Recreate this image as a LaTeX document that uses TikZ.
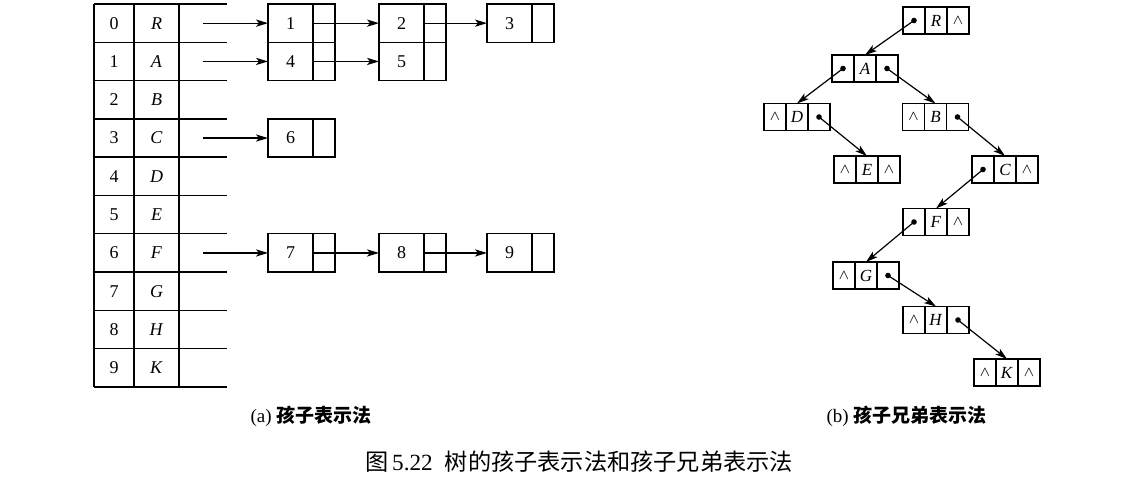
\documentclass[tikz,border=0pt]{standalone}
\usepackage{fontspec}
\setmainfont{Liberation Serif}
\newfontfamily\cjk{Noto Sans CJK SC}
\usetikzlibrary{arrows.meta,positioning}

\tikzset{
  tabline/.style={line width=0.7pt},
  tabtext/.style={font=\fontsize{9}{10}\selectfont},
  cell/.style={draw, line width=0.7pt, inner sep=0pt, outer sep=0pt, minimum height=19.15pt},
  datacell/.style={cell, minimum width=22.5pt, font=\fontsize{9}{10}\selectfont},
  ptrcell/.style={cell, minimum width=11pt},
  tcell/.style={draw, line width=0.6pt, inner sep=0pt, outer sep=0pt, minimum width=11pt, minimum height=13.5pt, font=\fontsize{8.5}{9}\selectfont},
  dot/.style={circle, fill, inner sep=0pt, minimum size=2.8pt},
  link/.style={-{Stealth[length=6pt,width=3.6pt,inset=1.5pt]}, line width=0.6pt},
}
\newcommand{\nilmark}{{\scriptsize$\wedge$}}
% one node of the child-sibling tree: left pointer, data, right pointer
\newcommand{\sibnode}[5]{%
  \node[tcell] (#1) at #2 {\textit{#3}};
  \node[tcell, left=0pt of #1] (#1l) {#4};
  \node[tcell, right=0pt of #1] (#1r) {#5};
}

\begin{document}
\begin{tikzpicture}[x=0.5pt, y=-0.5pt]
    \useasboundingbox (0,0) rectangle (1146,496);

    % Draw table
    \foreach \i/\lab in {0/R,1/A,2/B,3/C,4/D,5/E,6/F,7/G,8/H,9/K} {
        \node[tabtext] (idx\i) at (114, {23.15+38.3*\i}) {\i};
        \node[tabtext] (key\i) at (156.5, {23.15+38.3*\i}) {\textit{\lab}};
        \draw[tabline] (94, {4+38.3*\i}) -- (227, {4+38.3*\i});
    }
    \draw[tabline] (94,387) -- (227,387);
    \draw[tabline] (94,4) -- (94,387) (134,4) -- (134,387) (179,4) -- (179,387);

    % Draw child lists
    \node[datacell] (c1) at (290.5,23.15) {1};
    \node[ptrcell, right=0pt of c1] (p1) {};
    \node[datacell, below=0pt of c1] (c4) {4};
    \node[ptrcell, right=0pt of c4] (p4) {};
    \node[datacell] (c2) at (401.5,23.15) {2};
    \node[ptrcell, right=0pt of c2] (p2) {};
    \node[datacell, below=0pt of c2] (c5) {5};
    \node[ptrcell, right=0pt of c5] (p5) {};
    \node[datacell] (c3) at (509.5,23.15) {3};
    \node[ptrcell, right=0pt of c3] (p3) {};
    \node[datacell] (c6) at (290.5,138.05) {6};
    \node[ptrcell, right=0pt of c6] (p6) {};
    \node[datacell] (c7) at (290.5,252.95) {7};
    \node[ptrcell, right=0pt of c7] (p7) {};
    \node[datacell] (c8) at (401.5,252.95) {8};
    \node[ptrcell, right=0pt of c8] (p8) {};
    \node[datacell] (c9) at (509.5,252.95) {9};
    \node[ptrcell, right=0pt of c9] (p9) {};

    % Draw list links
    \coordinate (s0) at (203,23.15);
    \coordinate (s1) at (203,61.45);
    \coordinate (s3) at (203,138.05);
    \coordinate (s6) at (203,252.95);
    \draw[link] (s0) -- (c1.west);
    \draw[link] (s1) -- (c4.west);
    \draw[link] (s3) -- (c6.west);
    \draw[link] (s6) -- (c7.west);
    \draw[link] (p1.west) -- (c2.west);
    \draw[link] (p2.west) -- (c3.west);
    \draw[link] (p4.west) -- (c5.west);
    \draw[link] (p7.west) -- (c8.west);
    \draw[link] (p8.west) -- (c9.west);

    % Draw tree nodes
    \sibnode{R}{(936,20.5)}{R}{}{\nilmark}
    \sibnode{A}{(865,68.5)}{A}{}{}
    \sibnode{D}{(797,117)}{D}{\nilmark}{}
    \sibnode{B}{(935.5,117)}{B}{\nilmark}{}
    \sibnode{E}{(867,169.5)}{E}{\nilmark}{\nilmark}
    \sibnode{C}{(1005,169.5)}{C}{}{\nilmark}
    \sibnode{F}{(936,222)}{F}{}{\nilmark}
    \sibnode{G}{(866,275.5)}{G}{\nilmark}{}
    \sibnode{H}{(936,320)}{H}{\nilmark}{}
    \sibnode{K}{(1007,372.5)}{K}{\nilmark}{\nilmark}

    % Draw pointers
    \node[dot] (Rp) at (Rl) {};
    \node[dot] (Apl) at (Al) {};
    \node[dot] (Apr) at (Ar) {};
    \node[dot] (Dp) at (Dr) {};
    \node[dot] (Bp) at (Br) {};
    \node[dot] (Cp) at (Cl) {};
    \node[dot] (Fp) at (Fl) {};
    \node[dot] (Gp) at (Gr) {};
    \node[dot] (Hp) at (Hr) {};
    \draw[link] (Rp.center) -- (A.north);
    \draw[link] (Apl.center) -- (D.north);
    \draw[link] (Apr.center) -- (B.north);
    \draw[link] (Dp.center) -- (E.north);
    \draw[link] (Bp.center) -- (C.north);
    \draw[link] (Cp.center) -- (F.north);
    \draw[link] (Fp.center) -- (G.north);
    \draw[link] (Gp.center) -- (H.north);
    \draw[link] (Hp.center) -- (K.north);

    % Captions
    \node[font=\fontsize{9.5}{11}\selectfont] (capa) at (311,416) {(a)\ {\cjk\bfseries 孩子表示法}};
    \node[font=\fontsize{9.5}{11}\selectfont] (capb) at (906.5,416) {(b)\ {\cjk\bfseries 孩子兄弟表示法}};
    \node[font=\fontsize{11.6}{14}\selectfont] (cap) at (579,462) {{\cjk 图}\,5.22\hspace{6pt}{\cjk 树的孩子表示法和孩子兄弟表示法}};
\end{tikzpicture}
\end{document}
